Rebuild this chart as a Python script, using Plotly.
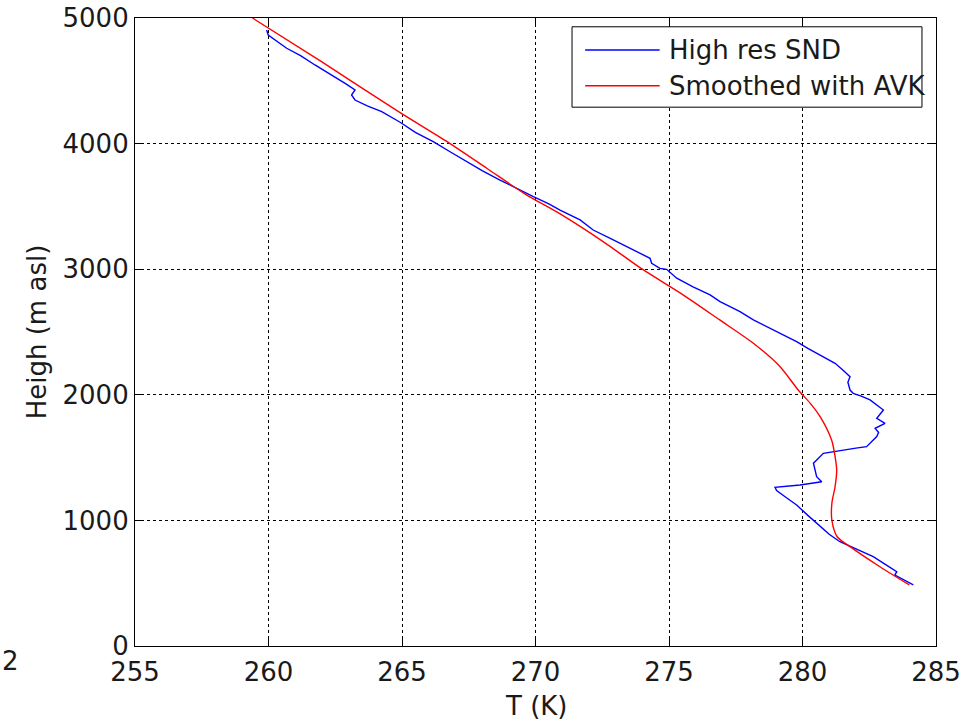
import plotly.graph_objects as go

# High-resolution sounding: temperature (K) vs height (m asl)
snd_T = [259.93, 259.99, 260.68, 261.2, 261.74, 262.37, 262.9, 263.24, 263.11, 263.24,
         263.7, 264.24, 264.93, 265.5, 266.17, 266.8, 267.42, 268.0, 268.67, 269.3,
         269.92, 270.5, 270.92, 271.67, 272.16, 272.8, 273.41, 273.9, 274.29, 274.35,
         274.66, 274.91, 275.29, 275.9, 276.54, 276.91, 277.66, 278.16, 279.0, 279.78,
         280.2, 280.53, 280.9, 281.22, 281.5, 281.78, 281.7, 281.78, 281.9, 282.2,
         282.53, 283.03, 282.78, 283.09, 282.72, 282.85, 282.78, 282.4, 282.0, 281.2,
         280.78, 280.41, 280.53, 280.72, 279.91, 278.97, 279.03, 279.4, 279.78, 280.2,
         280.66, 281.0, 281.4, 282.0, 282.65, 283.1, 283.53, 283.46, 283.8, 284.15]
snd_h = [4905, 4865, 4759, 4700, 4626, 4546, 4475, 4427, 4387, 4347,
         4300, 4254, 4170, 4090, 4015, 3935, 3856, 3785, 3710, 3640,
         3577, 3520, 3471, 3392, 3312, 3245, 3179, 3130, 3087, 3047,
         3007, 2999, 2928, 2860, 2795, 2742, 2662, 2596, 2505, 2423,
         2370, 2331, 2290, 2251, 2200, 2144, 2100, 2038, 2012, 1990,
         1959, 1879, 1813, 1773, 1733, 1700, 1667, 1587, 1575, 1550,
         1534, 1455, 1348, 1308, 1282, 1264, 1237, 1180, 1123, 1040,
         950, 890, 830, 770, 711, 650, 592, 565, 525, 486]

# Profile smoothed with the averaging kernels
avk_T = [259.4, 262.0, 264.9, 266.8, 268.2, 269.6, 271.0, 272.6, 274.0, 275.5,
         276.9, 278.16, 279.16, 279.84, 280.3, 280.66, 281.09, 281.2, 281.28, 281.22,
         281.1, 281.1, 281.3, 281.78, 282.9, 284.0]
avk_h = [5000, 4650, 4250, 4000, 3800, 3600, 3430, 3210, 3000, 2800,
         2596, 2410, 2224, 2038, 1930, 1826, 1640, 1534, 1401, 1268,
         1136, 1003, 870, 791, 631, 486]

series_names = ["High res SND", "Smoothed with AVK"]
series_colors = ["#0000ff", "#ff0000"]

x_ticks = [255, 260, 265, 270, 275, 280, 285]
y_ticks = [0, 1000, 2000, 3000, 4000, 5000]

FONT = "DejaVu Sans, Liberation Sans, Arial, sans-serif"
FS = 26
TXT = "#1a1a1a"

fig = go.Figure()
fig.add_trace(go.Scatter(x=snd_T, y=snd_h, mode="lines", name=series_names[0],
                         line=dict(color=series_colors[0], width=1.4), showlegend=False))
fig.add_trace(go.Scatter(x=avk_T, y=avk_h, mode="lines", name=series_names[1],
                         line=dict(color=series_colors[1], width=1.4, shape="spline", smoothing=0.8),
                         showlegend=False))

axis_common = dict(
    showline=True, linecolor="black", linewidth=1.2, mirror="allticks",
    ticks="inside", ticklen=8, tickwidth=1.2, tickcolor="black",
    showgrid=True, gridcolor="black", gridwidth=1, griddash="dot",
    zeroline=False, automargin=False, tickfont=dict(family=FONT, size=FS, color=TXT),
)

fig.update_xaxes(range=[255, 285], tickvals=x_ticks, ticklabelstandoff=3, **axis_common)
fig.update_yaxes(range=[0, 5000], tickvals=y_ticks, **axis_common,
                 title=dict(text="Heigh (m asl)", font=dict(family=FONT, size=FS, color=TXT), standoff=8))

# x-axis title placed just under the tick labels
fig.add_annotation(text="T (K)", xref="paper", yref="paper", x=0.5, y=-0.095,
                   xanchor="center", yanchor="middle", showarrow=False,
                   font=dict(family=FONT, size=FS, color=TXT))

# Legend box drawn in paper coordinates
lx0, lx1, ly0, ly1 = 0.5456, 0.9825, 0.858, 0.986
fig.add_shape(type="rect", xref="paper", yref="paper", x0=lx0, x1=lx1, y0=ly0, y1=ly1,
              line=dict(color="black", width=1), fillcolor="white", layer="above")
rows = [0.949, 0.892]
for name, color, yy in zip(series_names, series_colors, rows):
    fig.add_shape(type="line", xref="paper", yref="paper", x0=0.562, x1=0.655, y0=yy, y1=yy,
                  line=dict(color=color, width=1.4), layer="above")
    fig.add_annotation(text=name, xref="paper", yref="paper", x=0.664, y=yy,
                       xanchor="left", yanchor="middle", showarrow=False,
                       font=dict(family=FONT, size=FS, color=TXT))

fig.add_annotation(text="2", xref="paper", yref="paper", x=-0.1685, y=-0.024,
                   xanchor="left", yanchor="middle", showarrow=False,
                   font=dict(family=FONT, size=FS, color=TXT))

fig.update_layout(
    width=974, height=721,
    margin=dict(l=135, r=38, t=18, b=75),
    paper_bgcolor="white", plot_bgcolor="white",
    font=dict(family=FONT, color=TXT),
)

fig.write_html("out.html")
